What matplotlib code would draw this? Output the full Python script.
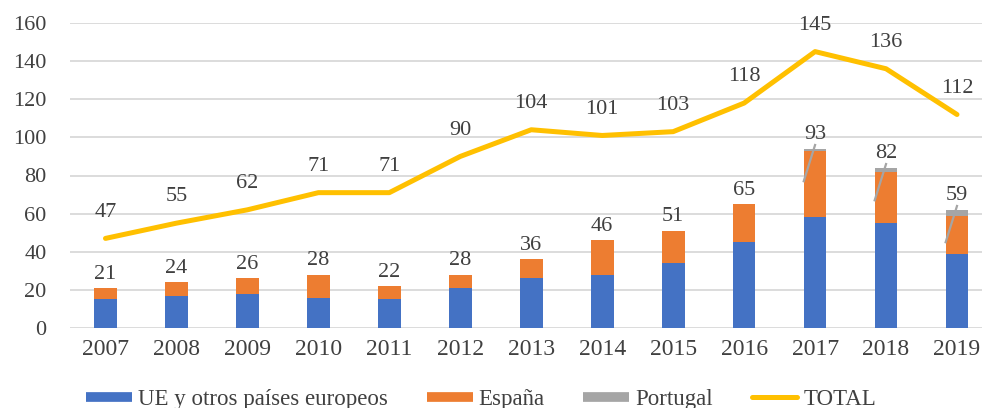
import matplotlib
matplotlib.use("Agg")
import matplotlib.pyplot as plt
from matplotlib.lines import Line2D
import numpy as np

years = ["2007", "2008", "2009", "2010", "2011", "2012", "2013",
         "2014", "2015", "2016", "2017", "2018", "2019"]
ue = [15, 17, 18, 16, 15, 21, 26, 28, 34, 45, 58, 55, 39]
espana = [6, 7, 8, 12, 7, 7, 10, 18, 17, 20, 35, 27, 20]
portugal = [0, 0, 0, 0, 0, 0, 0, 0, 0, 0, 1, 2, 3]
total = [47, 55, 62, 71, 71, 90, 104, 101, 103, 118, 145, 136, 112]
yticks = [0, 20, 40, 60, 80, 100, 120, 140, 160]

C_BLUE = "#4472C4"
C_ORANGE = "#ED7D31"
C_GRAY = "#A5A5A5"
C_YELLOW = "#FFC000"
TXT = "#404040"
FONT = "Liberation Serif"

fig = plt.figure(figsize=(9.82, 4.08), dpi=100)
ax = fig.add_axes([70 / 982, 1 - 328 / 408, 912 / 982, 305 / 408])

x = np.arange(len(years))
w = 0.32
ue_a = np.array(ue)
es_a = np.array(espana)
pt_a = np.array(portugal)

ax.bar(x, ue_a, w, color=C_BLUE, zorder=2)
ax.bar(x, es_a, w, bottom=ue_a, color=C_ORANGE, zorder=2)
ax.bar(x, pt_a, w, bottom=ue_a + es_a, color=C_GRAY, zorder=2)
ax.plot(x, total, color=C_YELLOW, lw=3.6, solid_capstyle="round",
        solid_joinstyle="round", zorder=3)

# bar labels (UE + España)
for i in range(len(x)):
    lab = ue[i] + espana[i]
    top = ue[i] + espana[i] + portugal[i]
    ax.annotate(str(lab), (x[i], top), xytext=(0, 10), textcoords="offset points",
                ha="center", va="center", fontsize=16, color=TXT,
                family=FONT, zorder=4)
    if portugal[i] > 0:
        ax.plot([x[i] - w / 2, x[i]], [top - 17, top + 2], color=C_GRAY,
                lw=1.6, zorder=4)

# total labels
for i in range(len(x)):
    ax.annotate(str(total[i]), (x[i], total[i]), xytext=(0, 19),
                textcoords="offset points", ha="center", va="center",
                fontsize=16, color=TXT, family=FONT, zorder=4)

ax.set_xlim(-0.5, 12 + 25 / 70.96)
ax.set_ylim(0, 160)
ax.set_yticks(yticks)
ax.set_yticklabels([str(v) for v in yticks], family=FONT, fontsize=16, color=TXT)
ax.set_xticks(x)
ax.set_xticklabels(years, family=FONT, fontsize=17, color=TXT)
ax.tick_params(axis="y", length=0, pad=17)
ax.tick_params(axis="x", length=0, pad=8)
ax.yaxis.grid(True, color="#D9D9D9", lw=1.3, zorder=0)
ax.set_axisbelow(True)
for s in ax.spines.values():
    s.set_visible(False)

handles = [Line2D([], [], color=c, lw=7, solid_capstyle="butt")
           for c in (C_BLUE, C_ORANGE, C_GRAY)]
handles.append(Line2D([], [], color=C_YELLOW, lw=3.6, solid_capstyle="round"))
labels = ["UE y otros países europeos", "España", "Portugal", "TOTAL"]
fig.legend(handles, labels, loc="center", bbox_to_anchor=(0.49, 1 - 399 / 408),
           ncol=4, frameon=False, handlelength=2.0, handletextpad=0.25,
           columnspacing=1.7, prop={"family": FONT, "size": 16.5},
           labelcolor=TXT)

fig.savefig("out.png", dpi=100)
